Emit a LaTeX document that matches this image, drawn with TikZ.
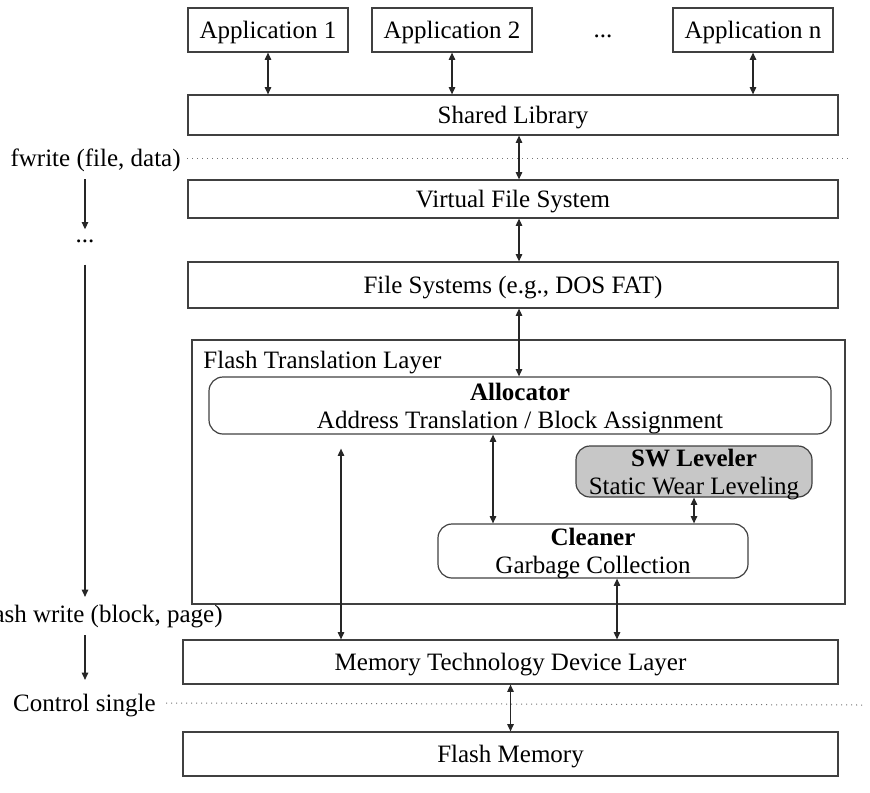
\documentclass[tikz,border=0pt]{standalone}
\usepackage{fontspec}
\setmainfont{Liberation Serif}
\usetikzlibrary{arrows.meta}

\tikzset{
  box/.style={draw=black!75, line width=0.6pt, inner sep=0pt, align=center, text depth=0pt},
  layer/.style={box, minimum width=325pt, minimum height=#1},
  appbox/.style={box, minimum width=80pt, minimum height=22pt},
  unit/.style={box, rounded corners=7pt},
  lbl/.style={inner sep=1pt, text depth=0pt},
  link/.style={black!85, line width=0.6pt, {Triangle[length=3.6pt,width=3.2pt]}-{Triangle[length=3.6pt,width=3.2pt]}},
  flow/.style={black!85, line width=0.6pt, -{Triangle[length=3.6pt,width=3.2pt]}},
  sep/.style={black!55, line width=0.5pt, dotted}
}

\begin{document}
\begin{tikzpicture}[x=0.5pt, y=-0.5pt, font=\fontsize{12.5}{14}\selectfont]
    \useasboundingbox (0,0) rectangle (870,792);

    % applications
    \node[appbox] (app1) at (268,30) {Application 1};
    \node[appbox] (app2) at (452,30) {Application 2};
    \node[lbl] (appdots) at (603,36) {...};
    \node[appbox] (appn) at (753,30) {Application n};

    % layers
    \node[layer=20pt] (lib) at (513,115) {Shared Library};
    \node[layer=19pt] (vfs) at (513,199) {Virtual File System};
    \node[layer=23pt] (fs) at (513,285) {File Systems (e.g., DOS FAT)};

    % flash translation layer
    \node[box, minimum width=326.5pt, minimum height=132pt] (ftl) at (518.5,472) {};
    \node[lbl, anchor=west] (ftlname) at (201,360) {Flash Translation Layer};
    \node[unit, minimum width=311pt, minimum height=28.5pt] (alloc) at (520,405.5)
        {\textbf{Allocator}\\Address Translation / Block Assignment};
    \node[unit, fill=black!22, minimum width=118pt, minimum height=25.5pt] (swl) at (694,471.5)
        {\textbf{SW Leveler}\\Static Wear Leveling};
    \node[unit, minimum width=155pt, minimum height=27pt] (clean) at (593,551)
        {\textbf{Cleaner}\\Garbage Collection};

    \node[box, minimum width=327.5pt, minimum height=22pt] (mtd) at (510.5,662) {Memory Technology Device Layer};
    \node[box, minimum width=327.5pt, minimum height=22pt] (flash) at (510.5,754) {Flash Memory};

    % columns for the vertical links
    \coordinate (colL) at (519,0);
    \coordinate (colA) at (341,0);
    \coordinate (colB) at (493,0);
    \coordinate (colC) at (617,0);
    \coordinate (colF) at (85,0);

    \draw[link] (app1.south) -- (app1.south |- lib.north);
    \draw[link] (app2.south) -- (app2.south |- lib.north);
    \draw[link] (appn.south) -- (appn.south |- lib.north);
    \draw[link] (lib.south -| colL) -- (vfs.north -| colL);
    \draw[link] (vfs.south -| colL) -- (fs.north -| colL);
    \draw[link] (fs.south -| colL) -- (alloc.north -| colL);
    \draw[link, shorten <=7pt] (alloc.south -| colA) -- (mtd.north -| colA);
    \draw[link] (alloc.south -| colB) -- (clean.north -| colB);
    \draw[link] (swl.south) -- (clean.north -| swl.south);
    \draw[link] (clean.south -| colC) -- (mtd.north -| colC);
    \draw[link] (mtd.south) -- (flash.north);

    % call path on the left
    \node[lbl, anchor=east] (fw) at (183,158) {fwrite (file, data)};
    \node[lbl] (fdots) at (85,241) {...};
    \node[lbl, anchor=east] (fbw) at (225,614) {Flash write (block, page)};
    \node[lbl, anchor=east] (ctl) at (158,703) {Control single};
    \coordinate (fwend) at (848,158);
    \coordinate (ctlend) at (862,705);

    \draw[sep, shorten <=2pt] (fw.east) -- (fwend);
    \draw[sep, shorten <=4pt] (ctl.east) -- (ctlend);
    \draw[flow, shorten <=5pt, shorten >=4pt] (fw.south -| colF) -- (fdots.north -| colF);
    \draw[flow, shorten <=10pt, shorten >=3pt] (fdots.south -| colF) -- (fbw.north -| colF);
    \draw[flow, shorten <=5pt, shorten >=6pt] (fbw.south -| colF) -- (ctl.north -| colF);
\end{tikzpicture}
\end{document}
